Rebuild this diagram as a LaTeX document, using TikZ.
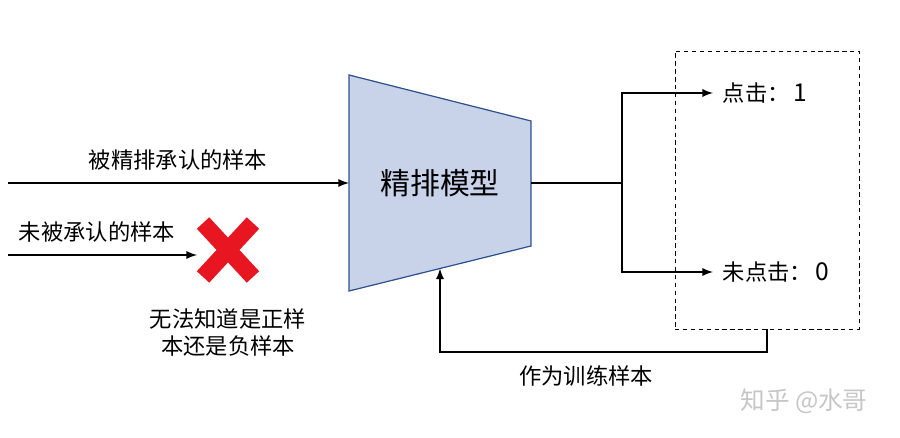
\documentclass[tikz,border=0pt]{standalone}
\usepackage{fontspec}
\newfontfamily\cjk{Noto Sans CJK SC}
\usetikzlibrary{calc,positioning}
\definecolor{modelfill}{RGB}{200,211,234}
\definecolor{modeldraw}{RGB}{47,82,143}
\definecolor{xred}{RGB}{232,22,32}

\begin{document}
\begin{tikzpicture}[x=0.02cm, y=-0.02cm, line width=1.1pt,
	arr/.style = {-latex},
	lbl/.style = {font=\cjk\fontsize{12.7}{15.5}\selectfont, inner sep=0pt},
	model/.style = {font=\cjk\fontsize{17}{20}\selectfont, inner sep=0pt},
	cross/.style = {minimum width=1.2cm, minimum height=1.28cm, inner sep=0pt},
	xmark/.style = {draw=xred, line width=9.6pt},
	dbox/.style = {draw, dash pattern=on 2.5pt off 2pt, line width=0.5pt, minimum width=3.68cm, minimum height=5.56cm}]
	\useasboundingbox (0,0) rectangle (900,438);
	% model block
	\coordinate (tl) at (349,75);
	\coordinate (tr) at (531,121);
	\coordinate (br) at (531,246);
	\coordinate (bl) at (349,291);
	\draw[fill=modelfill, draw=modeldraw, line width=0.7pt] (tl) -- (tr) -- (br) -- (bl) -- cycle;
	\node[model] (model) at (440,183) {精排模型};
	\coordinate (ml) at (349,183);
	\coordinate (mr) at (531,183);
	\coordinate (mb) at (440,268.5);
	% inputs
	\coordinate (in1) at (8,183);
	\coordinate (in2) at (8,255);
	\node[lbl] (acc) at (178,160) {被精排承认的样本};
	\node[lbl, anchor=west] (unacc) at (18,232) {未被承认的样本};
	\node[cross] (cross) at (228,250) {};
	\node[lbl, align=center, below=0.5cm of cross] (note) {无法知道是正样\\本还是负样本};
	% outputs
	\coordinate (split) at (622,183);
	\node[dbox] (box) at (767,190) {};
	\node[lbl, anchor=west, inner xsep=0.18cm] (click1) at (713,93) {点击：\,\fontsize{14}{16}\selectfont 1};
	\node[lbl, anchor=west, inner xsep=0.18cm] (click0) at (713,272) {未点击：\,\fontsize{14}{16}\selectfont 0};
	\node[lbl] (train) at (586,376) {作为训练样本};
	\node[lbl, text=gray!45, font=\cjk\fontsize{14}{16}\selectfont] (mark) at (804,401) {知乎 @水哥};
	% connectors
	\draw[arr] (in1) -- (ml);
	\draw[arr] (in2) -- ([yshift=-0.1cm]cross.west);
	\draw[xmark] ($(cross.north west)+(6,6)$) -- ($(cross.south east)+(-6,-6)$);
	\draw[xmark] ($(cross.north east)+(-6,6)$) -- ($(cross.south west)+(6,-6)$);
	\draw (mr) -- (split);
	\draw[arr] (split) |- (click1.west);
	\draw[arr] (split) |- (click0.west);
	\draw[arr] (box.south) -- ++(0,23) -| (mb);
\end{tikzpicture}
\end{document}
